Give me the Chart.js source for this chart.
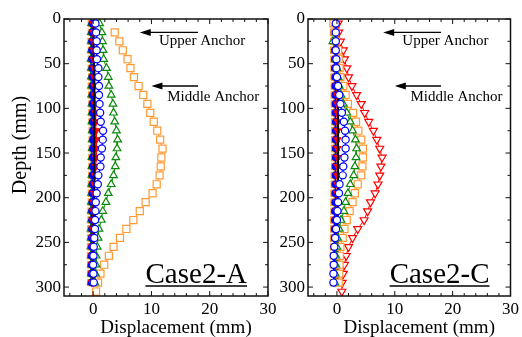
<!DOCTYPE html>
<html><head><meta charset="utf-8">
<script src="https://cdn.jsdelivr.net/npm/chart.js@4/dist/chart.umd.min.js"></script>
<style>
html,body{margin:0;padding:0;background:#fff;width:522px;height:337px;overflow:hidden}
.w{position:absolute;top:0;height:337px}
#wa{left:0;width:300px}
#wc{left:270px;width:252px}
</style></head><body>
<div class="w" id="wa"><canvas id="ca" width="300" height="337"></canvas></div>
<div class="w" id="wc"><canvas id="cc" width="252" height="337"></canvas></div>
<script>
// ---------- data ----------
const depth = [5,15,25,35,45,55,65,75,85,95,105,115,125,135,145,155,165,175,185,195,205,215,225,235,245,255,265,275,285,295,305];

// Case2-A
const orangeOpenA = [null,3.7,4.5,5.1,5.9,6.4,7.0,7.8,8.6,9.3,9.8,10.4,11.0,11.5,11.9,11.7,11.6,11.4,10.9,10.2,9.0,8.0,6.9,5.7,4.6,3.5,2.7,1.9,1.25,0.85,0.5];
const greenOpenA  = [1.1,1.5,1.6,1.7,1.8,2.3,2.6,2.7,3.1,3.4,3.5,3.7,4.0,4.2,4.1,3.9,3.8,3.5,3.1,2.6,2.2,1.65,1.4,1.0,0.85,0.7,0.5,0.5,0.4,0.3,null];
const blueOpenA   = [0.4,0.5,0.6,0.6,0.65,0.9,0.9,1.0,1.0,1.1,1.2,1.3,1.7,1.65,1.5,1.3,1.25,0.9,0.8,0.6,0.45,0.4,0.33,0.3,0.2,0.1,0.05,0,0.05,0.1,null];
const redFillA    = [0.0,0.05,0.05,0.1,0.1,0.15,0.2,0.25,0.3,0.35,0.4,0.45,0.5,0.55,0.55,0.5,0.45,0.35,0.25,0.15,0.05,0.0,-0.05,-0.1,-0.1,-0.15,-0.15,-0.15,-0.2,-0.2,null];
const orangeFillA = [-0.3,-0.3,-0.35,-0.3,-0.3,-0.3,-0.25,-0.3,-0.25,-0.2,-0.2,-0.2,-0.15,-0.15,-0.15,-0.2,-0.2,-0.25,-0.3,-0.3,-0.3,-0.35,-0.35,-0.4,-0.4,-0.45,-0.45,-0.4,-0.4,-0.4,null];
const greenFillA  = [-0.35,-0.4,-0.4,-0.4,-0.45,-0.4,-0.4,-0.35,-0.35,-0.3,-0.3,-0.3,-0.25,-0.25,-0.25,-0.3,-0.3,-0.3,-0.35,-0.35,-0.4,-0.4,-0.4,-0.45,-0.45,-0.45,-0.4,-0.4,-0.4,-0.4,null];
const blueFillA   = [-0.15,-0.15,-0.2,-0.2,-0.2,-0.15,-0.15,-0.1,-0.1,-0.1,-0.05,-0.05,0,0,0,-0.05,-0.05,-0.1,-0.1,-0.15,-0.15,-0.2,-0.2,-0.2,-0.25,-0.25,-0.3,-0.3,-0.3,-0.3,null];
const blackA      = [0.1,0.1,0.1,0.1,0.1,0.15,0.15,0.15,0.2,0.2,0.2,0.25,0.25,0.25,0.25,0.25,0.2,0.2,0.15,0.15,0.1,0.1,0.1,0.05,0.05,0.05,0.05,0.05,0.05,0.05,null];

// Case2-C
const redOpenC    = [0.2,0.3,0.6,1.1,1.3,1.7,2.0,2.6,3.4,4.2,4.8,5.5,6.3,6.9,7.4,7.8,7.6,7.4,7.1,6.6,5.8,5.3,4.7,3.6,2.7,2.0,1.6,1.3,1.1,0.9,0.85];
const orangeOpenC = [-0.6,-0.3,-0.2,0.2,0.3,0.45,0.6,1.1,1.5,1.9,2.8,3.3,3.7,4.2,4.5,4.5,4.4,4.2,3.6,3.1,2.7,2.2,1.7,1.3,1.0,0.6,0.5,0.45,0.4,0.3,null];
const greenOpenC  = [-0.2,-0.2,-0.7,-0.3,-0.2,0,0.2,0.4,0.7,1.1,1.7,2.3,2.7,3.2,3.4,3.3,3.1,2.9,2.3,1.9,1.5,1.2,0.7,0.4,0.1,0,-0.2,-0.2,-0.3,-0.35,null];
const blueOpenC   = [-0.2,-0.2,-0.2,-0.2,-0.1,-0.1,0,0.2,0.4,0.6,0.85,1.2,1.4,1.5,1.5,1.3,1.1,1.0,0.45,0.35,0.2,0.1,0,-0.15,-0.3,-0.45,-0.55,-0.55,-0.6,-0.6,null];
const redFillC    = [-0.2,-0.15,-0.1,-0.1,-0.05,-0.05,0,0,0,0.05,0.05,0.1,0.1,0.1,0.1,0.1,0.1,0.05,0.05,0,0,-0.05,-0.1,-0.1,-0.15,-0.15,-0.2,-0.2,-0.2,-0.2,null];
const orangeFillC = [-0.6,-0.6,-0.55,-0.55,-0.5,-0.5,-0.5,-0.45,-0.45,-0.45,-0.4,-0.4,-0.4,-0.4,-0.4,-0.4,-0.4,-0.45,-0.45,-0.5,-0.5,-0.5,-0.55,-0.55,-0.6,-0.6,-0.6,-0.6,-0.6,-0.6,null];
const greenFillC  = [-0.3,-0.35,-0.35,-0.3,-0.3,-0.3,-0.25,-0.25,-0.2,-0.2,-0.2,-0.2,-0.15,-0.15,-0.15,-0.15,-0.2,-0.2,-0.2,-0.25,-0.25,-0.3,-0.3,-0.3,-0.35,-0.35,-0.35,-0.35,-0.4,-0.4,null];
const blueFillC   = [-0.4,-0.4,-0.4,-0.35,-0.35,-0.35,-0.3,-0.3,-0.3,-0.25,-0.25,-0.2,-0.2,-0.2,-0.2,-0.2,-0.25,-0.25,-0.3,-0.3,-0.3,-0.35,-0.35,-0.4,-0.4,-0.45,-0.45,-0.45,-0.45,-0.45,null];
const blackC      = [0.15,0.15,0.15,0.15,0.15,0.15,0.15,0.15,0.15,0.2,0.2,0.2,0.2,0.2,0.2,0.2,0.2,0.2,0.2,0.15,0.15,0.15,0.15,0.1,0.1,0.1,0.1,0.1,0.1,0.1,null];

// axes / ticks
const xTickVals  = [0,10,20,30];
const xMinorVals = [-4,-2,2,4,6,8,12,14,16,18,22,24,26,28];
const yTickVals  = [0,50,100,150,200,250,300];
const yMinorVals = [25,75,125,175,225,275];
const xRange = [-5,30];
const yRange = [0,310];

// annotations (data units)
const anchorLabels = ['Upper Anchor','Middle Anchor'];
const anchorDepth  = [15,75];
const arrowFrom    = [18,18];
const arrowTo      = [8,10];
const labelX       = [11.3,12.7];
const labelDepth   = [24.5,87];

const ORANGE='#FF9933', GREEN='#0A8A0A', BLUE='#0000FF', RED='#FF0000', BLACK='#000000';
const SERIF='"Liberation Serif","Times New Roman",Times,serif';

function pts(arr){ const o=[]; arr.forEach((v,i)=>{ if(v!==null) o.push({x:v,y:depth[i]}); }); return o; }

function ds(arr,color,style,opt){
  const open = opt.open;
  return {
    data: pts(arr), showLine:true, borderColor:color, borderWidth:1,
    pointStyle:style, pointRadius:opt.r, pointBorderWidth:1.2,
    pointBorderColor:color, pointBackgroundColor: open?'#ffffff':color,
    pointRotation: opt.rot||0, backgroundColor: open?'#ffffff':color
  };
}
function lineDs(arr,color){
  return {data:pts(arr), showLine:true, borderColor:color, borderWidth:2, pointRadius:0};
}

function makePlugin(caseLabel){
  return {
    id:'decor',
    afterDatasetsDraw(chart){
      const ctx=chart.ctx, xs=chart.scales.x, ys=chart.scales.y;
      const {left,right,top,bottom}=chart.chartArea;
      ctx.save();
      ctx.strokeStyle='#111'; ctx.lineWidth=1;
      const tick=(x1,y1,x2,y2)=>{ctx.beginPath();ctx.moveTo(x1,y1);ctx.lineTo(x2,y2);ctx.stroke();};
      xTickVals.forEach(v=>{const p=xs.getPixelForValue(v); tick(p,bottom,p,bottom-5); tick(p,top,p,top+5);});
      xMinorVals.forEach(v=>{const p=xs.getPixelForValue(v); tick(p,bottom,p,bottom-3); tick(p,top,p,top+3);});
      yTickVals.forEach(v=>{const p=ys.getPixelForValue(v); tick(left,p,left+5,p); tick(right,p,right-5,p);});
      yMinorVals.forEach(v=>{const p=ys.getPixelForValue(v); tick(left,p,left+3,p); tick(right,p,right-3,p);});
      ctx.lineWidth=1.5;
      ctx.strokeRect(left,top,right-left,bottom-top);
      ctx.fillStyle='#000'; ctx.strokeStyle='#000';
      anchorLabels.forEach((t,i)=>{
        const y=ys.getPixelForValue(anchorDepth[i]);
        const x1=xs.getPixelForValue(arrowFrom[i]), x2=xs.getPixelForValue(arrowTo[i]);
        ctx.lineWidth=1.3; tick(x1,y,x2+8,y);
        ctx.beginPath(); ctx.moveTo(x2,y); ctx.lineTo(x2+11,y-3.5); ctx.lineTo(x2+11,y+3.5); ctx.closePath(); ctx.fill();
        ctx.font='15px '+SERIF; ctx.textAlign='left'; ctx.textBaseline='middle';
        ctx.fillText(t, xs.getPixelForValue(labelX[i]), ys.getPixelForValue(labelDepth[i]));
      });
      ctx.font='29px '+SERIF; ctx.textAlign='right'; ctx.textBaseline='alphabetic';
      const cx=right-21, cy=283;
      ctx.fillText(caseLabel,cx,cy);
      const w=ctx.measureText(caseLabel).width;
      ctx.lineWidth=1.5; tick(cx-w,cy+3,cx,cy+3);
      ctx.font='19px '+SERIF; ctx.textAlign='center'; ctx.textBaseline='middle';
      ctx.fillText('Displacement (mm)', (left+right)/2+10, 328);
      ctx.restore();
    },
    afterDraw(chart){
      if(caseLabel!=='Case2-A') return;
      const ctx=chart.ctx;
      ctx.save();
      ctx.font='20px '+SERIF; ctx.fillStyle='#000'; ctx.textAlign='center'; ctx.textBaseline='middle';
      ctx.translate(21,145); ctx.rotate(-Math.PI/2);
      ctx.fillText('Depth (mm)',0,0);
      ctx.restore();
    }
  };
}

function makeChart(id, datasets, caseLabel, yWidth, padRight){
  return new Chart(document.getElementById(id), {
    type:'scatter',
    data:{datasets},
    options:{
      responsive:false, animation:false, events:[],
      layout:{padding:{top:19,right:padRight,left:0,bottom:0}},
      plugins:{legend:{display:false},tooltip:{enabled:false}},
      scales:{
        x:{type:'linear',min:xRange[0],max:xRange[1],
           grid:{display:false,drawTicks:false}, border:{display:false},
           afterBuildTicks:s=>{s.ticks=xTickVals.map(v=>({value:v}));},
           afterFit:s=>{s.height=41;},
           ticks:{font:{family:SERIF,size:17},color:'#000',padding:3,maxRotation:0,autoSkip:false}},
        y:{type:'linear',min:yRange[0],max:yRange[1],reverse:true,
           grid:{display:false,drawTicks:false}, border:{display:false},
           afterBuildTicks:s=>{s.ticks=yTickVals.map(v=>({value:v}));},
           afterFit:s=>{s.width=yWidth;},
           ticks:{font:{family:SERIF,size:17},color:'#000',padding:3,autoSkip:false}}
      }
    },
    plugins:[makePlugin(caseLabel)]
  });
}

const dsA = [
  ds(blueOpenA,BLUE,'circle',{open:true,r:3.6}),
  ds(greenOpenA,GREEN,'triangle',{open:true,r:4.4}),
  ds(orangeOpenA,ORANGE,'rect',{open:true,r:5}),
  lineDs(blackA,BLACK),
  ds(redFillA,RED,'triangle',{open:false,r:3.8,rot:180}),
  ds(blueFillA,BLUE,'circle',{open:false,r:3.2}),
  ds(greenFillA,GREEN,'triangle',{open:false,r:3.8}),
  ds(orangeFillA,ORANGE,'rect',{open:false,r:4.4})
];
const dsC = [
  ds(blueOpenC,BLUE,'circle',{open:true,r:3.6}),
  ds(greenOpenC,GREEN,'triangle',{open:true,r:4.4}),
  ds(orangeOpenC,ORANGE,'rect',{open:true,r:5}),
  ds(redOpenC,RED,'triangle',{open:true,r:4.6,rot:180}),
  lineDs(blackC,BLACK),
  ds(redFillC,RED,'triangle',{open:false,r:3.8,rot:180}),
  ds(blueFillC,BLUE,'circle',{open:false,r:3.2}),
  ds(greenFillC,GREEN,'triangle',{open:false,r:3.8}),
  ds(orangeFillC,ORANGE,'rect',{open:false,r:4.4})
];

function build(){
  makeChart('ca', dsA, 'Case2-A', 64, 32);
  makeChart('cc', dsC, 'Case2-C', 38, 9);
}
document.fonts.load('15px "Liberation Serif"').then(build, build);
</script>
</body></html>
